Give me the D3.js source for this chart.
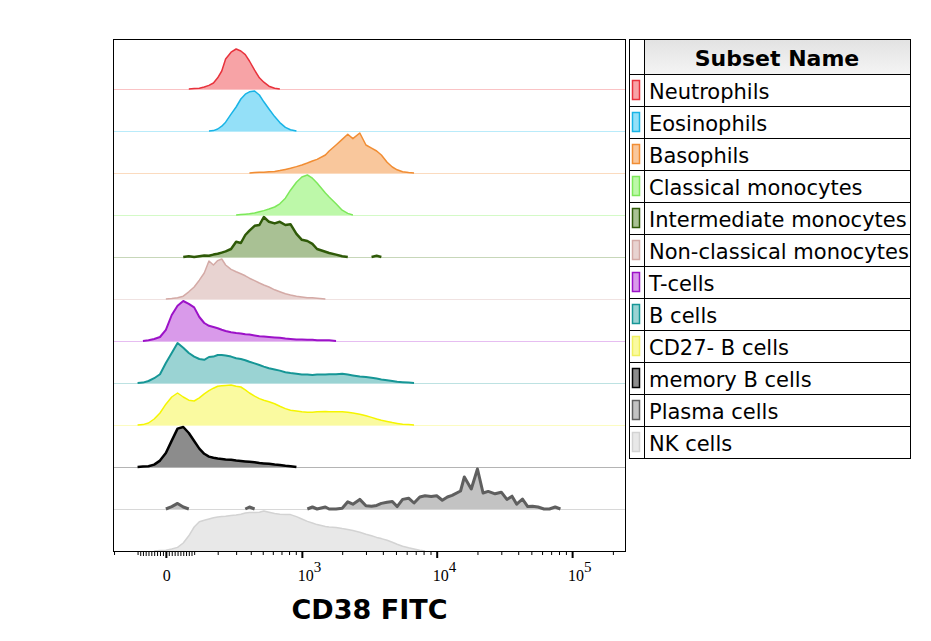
<!DOCTYPE html>
<html>
<head>
  <meta charset="utf-8">
  <title>CD38 FITC</title>
  <script src="https://cdn.jsdelivr.net/npm/d3@7/dist/d3.min.js"></script>
  <style>
    body { margin: 0; background: #fff; }
  </style>
</head>
<body>
  <div id="chart"></div>
  <script>
    // subsets, top to bottom
    var subsets = ["Neutrophils", "Eosinophils", "Basophils", "Classical monocytes",
      "Intermediate monocytes", "Non-classical monocytes", "T-cells", "B cells",
      "CD27- B cells", "memory B cells", "Plasma cells", "NK cells"];
    var strokeColors = ["#e8323c", "#18b4e6", "#f18d33", "#7de85a", "#2f5a08", "#d4aaa6",
      "#9c12c8", "#169696", "#f5f500", "#000000", "#5f5f5f", "#d3d3d3"];
    var fillColors = ["#f7a3a6", "#94e0f8", "#f9c79c", "#bdf8a9", "#a9c194", "#e8d3d1",
      "#d99aea", "#9ad3d3", "#fafaa0", "#8c8c8c", "#c3c3c3", "#e8e8e8"];
    var lineWidths = [1.5, 1.5, 1.5, 1.5, 2.5, 1.5, 2, 2, 1.5, 2.5, 3, 1.5];

    // histogram bin centres (CD38 FITC intensity)
    var bins = [-200, -180, -160, -140, -120, -100, -80, -60, -40, -20,
      0, 20, 40, 60, 80, 100, 120, 140, 160, 180,
      200, 220, 240, 270, 300, 330, 360, 390, 430, 470,
      510, 560, 620, 680, 750, 820, 910, 1000, 1100, 1200,
      1300, 1500, 1600, 1800, 2000, 2200, 2400, 2700, 3000, 3300,
      3600, 3900, 4300, 4700, 5100, 5600, 6200, 6800, 7500, 8200,
      9100, 10000, 11000, 12000, 13000, 15000, 16000, 18000, 20000, 22000,
      24000, 27000, 30000, 33000, 36000, 39000, 43000, 47000, 51000, 56000,
      62000, 68000, 75000, 82000];

    // first bin index of each series below
    var startBin = [14, 18, 27, 24, 13, 10, 6, 5, 5, 5, 10, 8];

    // % of mode
    var neutrophils = [0, 1, 2, 5, 9, 15, 28, 45, 75, 92, 100, 95, 86, 70, 47, 28, 17, 7, 2, 0];
    var eosinophils = [0, 1, 5, 12, 22, 42, 60, 80, 92, 98, 100, 90, 73, 55, 36, 21, 9, 3, 0];
    var basophils = [0, 1, 2, 2, 3, 4, 6, 9, 12, 16, 20, 25, 30, 34, 45, 55, 70, 84, 97,
      86, 100, 70, 62, 55, 45, 27, 15, 8, 3, 1, 0];
    var classicalMono = [0, 1, 2, 3, 5, 8, 11, 15, 20, 28, 42, 62, 82, 95, 100, 92, 80, 55, 45, 28,
      12, 4, 0];
    var intermediateMono = [0, 2, 0, 2, 4, 3, 6, 8, 11, 14, 20, 38, 35, 55, 66, 78, 80, 100, 88, 84,
      88, 80, 82, 58, 43, 40, 33, 20, 13, 10, 6, 2, 0, 0, 0, 0, 0, 3, 0];
    var nonClassicalMono = [0, 1, 3, 7, 18, 30, 47, 65, 95, 85, 96, 100, 85, 74, 68, 63, 58, 52, 46, 40,
      35, 30, 23, 18, 13, 10, 7, 5, 3, 3, 2, 0];
    var tCells = [0, 2, 5, 10, 28, 65, 88, 100, 93, 84, 60, 45, 38, 35, 32, 28, 25, 22, 20, 19,
      17, 16, 14, 12, 11, 10, 9, 8, 6, 5, 4, 4, 3, 3, 2, 2, 2, 0];
    var bCells = [0, 1, 5, 12, 22, 50, 75, 100, 88, 75, 66, 60, 58, 65, 66, 70, 70, 69, 66, 62,
      60, 57, 53, 49, 45, 41, 37, 34, 31, 27, 25, 23, 21, 21, 20, 21, 21, 22, 22, 23,
      21, 19, 16, 15, 13, 11, 9, 7, 5, 3, 2, 1, 0];
    var cd27negBCells = [0, 1, 5, 15, 30, 52, 70, 80, 70, 62, 60, 68, 78, 86, 92, 97, 98, 99, 100, 97,
      95, 88, 80, 72, 66, 62, 58, 53, 47, 41, 37, 35, 33, 32, 32, 33, 34, 33, 33, 33,
      32, 30, 27, 23, 19, 15, 12, 9, 6, 4, 2, 1, 0];
    var memoryBCells = [0, 1, 2, 6, 16, 35, 66, 96, 100, 85, 65, 46, 33, 26, 23, 21, 20, 19, 18, 16,
      15, 14, 13, 12, 10, 9, 8, 6, 5, 3, 2, 0];
    var plasmaCells = [0, 6, 14, 5, 0, 0, 0, 0, 0, 0, 0, 0, 0, 0, 0, 0, 0, 5, 0, 0,
      0, 0, 0, 0, 0, 0, 0, 0, 0, 5, 0, 5, 0, 0, 2, 18, 12, 24, 8, 7,
      9, 14, 17, 19, 6, 24, 27, 15, 30, 33, 31, 33, 22, 30, 34, 45, 80, 50, 100, 40,
      44, 38, 42, 24, 32, 12, 25, 6, 7, 5, 0, 0, 5, 0];
    var nkCells = [0, 1, 2, 5, 9, 20, 38, 60, 73, 77, 80, 83, 85, 86, 87, 89, 90, 92, 95, 96,
      96, 97, 100, 97, 94, 92, 91, 91, 86, 80, 74, 70, 66, 61, 60, 59, 56, 54, 51, 47,
      42, 38, 34, 31, 27, 22, 17, 12, 8, 5, 2, 0];

    var series = [neutrophils, eosinophils, basophils, classicalMono, intermediateMono,
      nonClassicalMono, tCells, bCells, cd27negBCells, memoryBCells, plasmaCells, nkCells];

    // axis ticks
    var majorTicks = [0, 1000, 10000, 100000];
    var majorExp = [null, 3, 4, 5];
    var nearZeroTicks = [-90, -80, -70, -60, -50, -40, -30, -20, -10, 10, 20, 30, 40, 50, 60, 70, 80, 90];
    var minorTicks = [-200, -100, 100, 200, 300, 400, 500, 600, 700, 800, 900,
      2000, 3000, 4000, 5000, 6000, 7000, 8000, 9000,
      20000, 30000, 40000, 50000, 60000, 70000, 80000, 90000, 200000];

    var W = 931, H = 641;
    var plot = { left: 113, top: 39, right: 626, bottom: 551 };

    var svg = d3.select("#chart").append("svg")
      .attr("width", W)
      .attr("height", H)
      .style("font-family", "'DejaVu Sans', sans-serif");

    // arcsinh display transform (biexponential-like)
    var cofactor = 200;
    function tx(v) { return Math.asinh(v / cofactor); }
    var xLin = d3.scaleLinear()
      .domain([tx(-205), tx(250000)])
      .range([plot.left, plot.right]);
    var x = function(v) { return xLin(tx(v)); };
    x.copy = function() { return x; };
    x.range = function() { return xLin.range(); };

    var yRow = d3.scalePoint().domain(subsets).range([89, 551]);
    var h = d3.scaleLinear().domain([0, 100]).range([0, 40]);

    svg.append("clipPath").attr("id", "clip")
      .append("rect")
      .attr("x", plot.left).attr("y", plot.top)
      .attr("width", plot.right - plot.left).attr("height", plot.bottom - plot.top);

    var g = svg.append("g").attr("clip-path", "url(#clip)");

    subsets.forEach(function(name, i) {
      var base = yRow(name);
      var pts = series[i].map(function(c, k) { return { v: bins[startBin[i] + k], c: c }; });

      // faint baseline across the plot
      g.append("line")
        .attr("x1", plot.left).attr("x2", plot.right)
        .attr("y1", base + 0.5).attr("y2", base + 0.5)
        .attr("stroke", d3.interpolateRgb(fillColors[i], "#ffffff")(0.35))
        .attr("stroke-width", 1);

      var area = d3.area()
        .x(function(d) { return x(d.v); })
        .y0(base)
        .y1(function(d) { return base - h(d.c); });

      var line = d3.line()
        .defined(function(d, k) {
          var a = pts[k - 1], b = pts[k + 1];
          return d.c > 0 || (a && a.c > 0) || (b && b.c > 0);
        })
        .x(function(d) { return x(d.v); })
        .y(function(d) { return base - h(d.c); });

      g.append("path")
        .datum(pts)
        .attr("d", area)
        .attr("fill", fillColors[i]);

      g.append("path")
        .datum(pts)
        .attr("d", line)
        .attr("fill", "none")
        .attr("stroke", strokeColors[i])
        .attr("stroke-width", lineWidths[i])
        .attr("stroke-linejoin", "round");
    });

    // plot frame
    svg.append("rect")
      .attr("x", plot.left + 0.5).attr("y", plot.top + 0.5)
      .attr("width", plot.right - plot.left - 1).attr("height", plot.bottom - plot.top)
      .attr("fill", "none")
      .attr("stroke", "#000")
      .attr("stroke-width", 1);

    // ticks
    var axisG = svg.append("g").attr("transform", "translate(0," + (plot.bottom + 1) + ")");
    axisG.append("g")
      .call(d3.axisBottom(x).tickValues(minorTicks).tickSize(3).tickSizeOuter(0).tickFormat(""))
      .call(function(s) { s.select(".domain").remove(); });
    axisG.append("g")
      .call(d3.axisBottom(x).tickValues(nearZeroTicks).tickSize(4).tickSizeOuter(0).tickFormat(""))
      .call(function(s) { s.select(".domain").remove(); });
    axisG.append("g")
      .call(d3.axisBottom(x).tickValues(majorTicks).tickSize(6).tickSizeOuter(0).tickFormat(""))
      .call(function(s) { s.select(".domain").remove(); s.selectAll("line").attr("stroke-width", 2); });

    // tick labels
    majorTicks.forEach(function(v, i) {
      var t = svg.append("text")
        .attr("y", 581)
        .style("font-family", "'Liberation Serif', serif")
        .style("font-size", "16px")
        .attr("fill", "#000");
      if (majorExp[i] == null) {
        t.attr("x", x(v) + 1).attr("text-anchor", "middle").text("0");
      } else {
        t.attr("x", x(v) - 4).attr("text-anchor", "start");
        t.append("tspan").text("10");
        t.append("tspan").attr("dy", -9).style("font-size", "15px").text(majorExp[i]);
      }
    });

    // axis title
    svg.append("text")
      .attr("x", (plot.left + plot.right) / 2)
      .attr("y", 619)
      .attr("text-anchor", "middle")
      .style("font-size", "27px")
      .style("font-weight", "bold")
      .text("CD38 FITC");

    // legend table
    var leg = { left: 629, mid: 644, right: 910, top: 39, headH: 35, rowH: 32 };
    var grad = svg.append("defs").append("linearGradient")
      .attr("id", "headGrad").attr("x1", 0).attr("y1", 0).attr("x2", 0).attr("y2", 1);
    grad.append("stop").attr("offset", "0%").attr("stop-color", "#e2e2e2");
    grad.append("stop").attr("offset", "100%").attr("stop-color", "#f4f4f4");

    var lg = svg.append("g");
    var bottom = leg.top + leg.headH + leg.rowH * subsets.length;

    lg.append("rect")
      .attr("x", leg.mid).attr("y", leg.top)
      .attr("width", leg.right - leg.mid).attr("height", leg.headH)
      .attr("fill", "url(#headGrad)");

    lg.append("text")
      .attr("x", (leg.mid + leg.right) / 2)
      .attr("y", leg.top + 27)
      .attr("text-anchor", "middle")
      .style("font-size", "22px")
      .style("font-weight", "bold")
      .text("Subset Name");

    subsets.forEach(function(name, i) {
      var top = leg.top + leg.headH + i * leg.rowH;
      lg.append("rect")
        .attr("x", 632.5).attr("y", top + 6.5)
        .attr("width", 7).attr("height", 19)
        .attr("fill", fillColors[i])
        .attr("stroke", strokeColors[i] === "#f5f500" ? "#f0f060" : strokeColors[i])
        .attr("stroke-width", 1.5);
      lg.append("text")
        .attr("x", 649)
        .attr("y", top + 25)
        .style("font-size", "21px")
        .text(name);
      lg.append("line")
        .attr("x1", leg.left).attr("x2", leg.right)
        .attr("y1", top + 0.5).attr("y2", top + 0.5)
        .attr("stroke", "#000");
    });

    lg.append("rect")
      .attr("x", leg.left + 0.5).attr("y", leg.top + 0.5)
      .attr("width", leg.right - leg.left).attr("height", bottom - leg.top)
      .attr("fill", "none").attr("stroke", "#000");
    lg.append("line")
      .attr("x1", leg.mid + 0.5).attr("x2", leg.mid + 0.5)
      .attr("y1", leg.top).attr("y2", bottom)
      .attr("stroke", "#000");
  </script>
</body>
</html>
